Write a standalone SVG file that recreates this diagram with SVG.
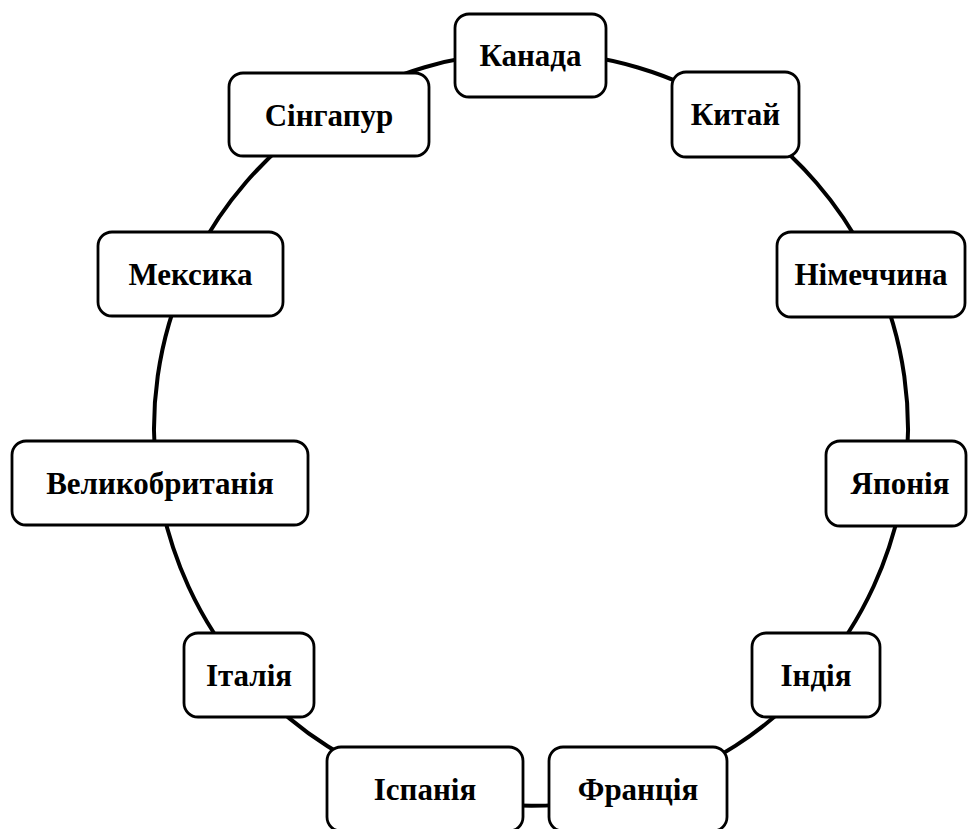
<svg xmlns="http://www.w3.org/2000/svg" width="968" height="829" viewBox="0 0 968 829">
<style>
.node rect{fill:#fff;stroke:#000;stroke-width:2.8}
.node text{font-family:"Liberation Serif","Times New Roman",serif;font-weight:bold;font-size:31px;fill:#000;text-anchor:middle}
.conn path{fill:none;stroke:#000;stroke-width:4}
</style>
<rect width="968" height="829" fill="#fff"/>
<g id="connectors" class="conn">
<path d="M531 52 A377 377 0 0 1 735.9 112.6"/>
<path d="M735.9 112.6 A377 377 0 0 1 874 272.6"/>
<path d="M874 272.6 A377 377 0 0 1 904 484.2"/>
<path d="M904 484.2 A377 377 0 0 1 816.4 675.3"/>
<path d="M816.4 675.3 A377 377 0 0 1 638.4 790.3"/>
<path d="M638.4 790.3 A377 377 0 0 1 424.6 790.4"/>
<path d="M424.6 790.4 A377 377 0 0 1 246.9 676.8"/>
<path d="M246.9 676.8 A377 377 0 0 1 157.9 483.3"/>
<path d="M157.9 483.3 A377 377 0 0 1 187.9 272.8"/>
<path d="M187.9 272.8 A377 377 0 0 1 327.3 111.8"/>
<path d="M327.3 111.8 A377 377 0 0 1 531 52"/>
</g>
<g id="node-kanada" class="node"><rect x="455" y="14" width="151" height="83" rx="14"/><text x="530.5" y="66">Канада</text></g>
<g id="node-kytai" class="node"><rect x="672" y="72" width="127" height="85" rx="14"/><text x="735.5" y="125">Китай</text></g>
<g id="node-nimechchyna" class="node"><rect x="777" y="232" width="188" height="85" rx="14"/><text x="871" y="285">Німеччина</text></g>
<g id="node-yaponiia" class="node"><rect x="826" y="441" width="140" height="85" rx="14"/><text x="900" y="494">Японія</text></g>
<g id="node-indiia" class="node"><rect x="752" y="633" width="128" height="84" rx="14"/><text x="816" y="686">Індія</text></g>
<g id="node-frantsiia" class="node"><rect x="549" y="747" width="178" height="84" rx="14"/><text x="638" y="800">Франція</text></g>
<g id="node-ispaniia" class="node"><rect x="327" y="747" width="196" height="84" rx="14"/><text x="425" y="800">Іспанія</text></g>
<g id="node-italiia" class="node"><rect x="184" y="633" width="130" height="84" rx="14"/><text x="249" y="686">Італія</text></g>
<g id="node-velykobrytaniia" class="node"><rect x="12" y="441" width="296" height="84" rx="14"/><text x="160" y="494">Великобританія</text></g>
<g id="node-meksyka" class="node"><rect x="98" y="232" width="185" height="84" rx="14"/><text x="190.5" y="285">Мексика</text></g>
<g id="node-synhapur" class="node"><rect x="229" y="73" width="200" height="83" rx="14"/><text x="329" y="126">Сінгапур</text></g>
</svg>
